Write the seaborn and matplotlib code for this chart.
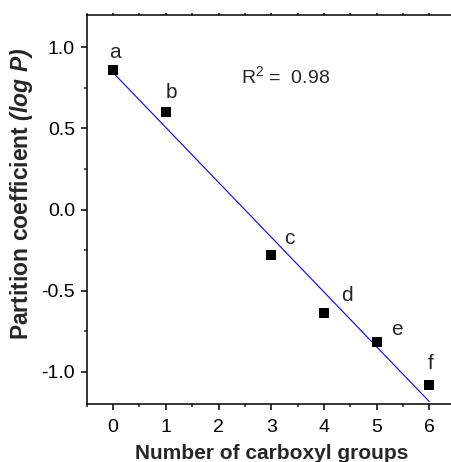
import numpy as np
import pandas as pd
import matplotlib
matplotlib.use("Agg")
import matplotlib.pyplot as plt
import seaborn as sns
from matplotlib.ticker import MultipleLocator, FormatStrFormatter

carboxyl_groups = [0, 1, 3, 4, 5, 6]
log_p = [0.86, 0.60, -0.28, -0.64, -0.82, -1.08]
point_labels = ["a", "b", "c", "d", "e", "f"]
r_squared = 0.98

df = pd.DataFrame({"n": carboxyl_groups, "logp": log_p})

sns.set_style("ticks")
plt.rcParams["font.family"] = ["Liberation Sans", "DejaVu Sans"]
plt.rcParams["mathtext.fontset"] = "custom"
plt.rcParams["mathtext.rm"] = "Liberation Sans"
plt.rcParams["mathtext.bf"] = "Liberation Sans:bold"
plt.rcParams["mathtext.it"] = "Liberation Sans:italic"
plt.rcParams["mathtext.bfit"] = "Liberation Sans:bold:italic"

fig = plt.figure(figsize=(4.52, 4.62), dpi=100)
ax = fig.add_axes([0.192, 0.1255, 0.816, 0.842])

sns.regplot(data=df, x="n", y="logp", ax=ax, ci=None, marker="s",
            scatter_kws={"color": "black", "s": 44, "linewidths": 0,
                         "alpha": 1, "zorder": 3},
            line_kws={"color": "#0000ff", "linewidth": 0.8, "zorder": 2})

# label offsets in points (dx, dy)
offsets = [(1, 13), (4, 14), (13, 12), (16.5, 13), (14.5, 9), (1, 15)]
for xv, yv, lab, off in zip(carboxyl_groups, log_p, point_labels, offsets):
    ax.annotate(lab, (xv, yv), xytext=off, textcoords="offset points",
                ha="center", va="center", fontsize=15)

ax.text(2.42, 0.825, "R$^{2}$ =  %.2f" % r_squared, ha="left", va="center", fontsize=14)

ax.set_xlim(-0.5, 6.5)
ax.set_ylim(-1.2, 1.2)
ax.xaxis.set_major_locator(MultipleLocator(1))
ax.xaxis.set_minor_locator(MultipleLocator(0.5))
ax.yaxis.set_major_locator(MultipleLocator(0.5))
ax.yaxis.set_minor_locator(MultipleLocator(0.25))
ax.yaxis.set_major_formatter(FormatStrFormatter("%.1f"))

ax.tick_params(which="major", direction="out", length=4.5, width=1.1, labelsize=14,
               bottom=True, left=True, top=False, right=False, colors="black")
ax.tick_params(which="minor", direction="out", length=2.5, width=1.1,
               bottom=True, left=True, top=False, right=False)
ax.tick_params(axis="x", which="major", pad=6)
ax.tick_params(axis="y", which="major", pad=4)
# small marks on the top frame
ax.tick_params(axis="x", which="both", top=True, labeltop=False)
for t in ax.xaxis.get_major_ticks() + ax.xaxis.get_minor_ticks():
    t.tick2line.set_markersize(1.5)
for s in ax.spines.values():
    s.set_linewidth(1.1)
    s.set_color("black")

ax.set_xlabel("Number of carboxyl groups", fontsize=15, fontweight="bold", labelpad=6)
ax.set_ylabel(r"Partition coefficient $\mathbfit{(log\ P)}$", fontsize=16.5,
              fontweight="bold")
ax.yaxis.set_label_coords(-0.14, 0.54)

fig.savefig("out.png", dpi=100)
